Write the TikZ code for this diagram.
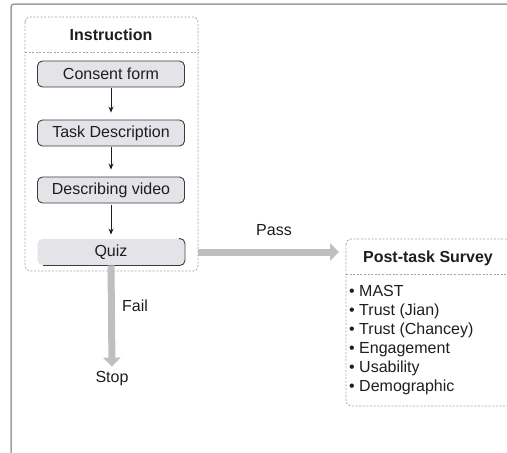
\documentclass[tikz,border=0pt]{standalone}
\usepackage{fontspec}
\setmainfont{Liberation Sans}
\usepackage{xcolor}
\usetikzlibrary{arrows.meta}
\definecolor{box_fill}{HTML}{E4E4E8}
\definecolor{box_line}{HTML}{3A3A3A}
\definecolor{txt_main}{HTML}{1E1E1E}
\colorlet{frame_line}{gray!75}
\colorlet{dash_line}{gray!70}
\colorlet{big_arrow_col}{gray!50}
\tikzset{
    step_box/.style={rectangle,rounded corners=5pt,fill=box_fill,draw=box_line,line width=0.9pt,
        minimum width=147pt,minimum height=26pt,inner sep=0pt,text=txt_main},
    dashed_frame/.style={dash_line,line width=0.8pt,dash pattern=on 2pt off 1.6pt},
    flow_arrow/.style={-{Stealth[length=6pt,width=5pt]},line width=0.9pt,txt_main},
    big_arrow/.style={-{Triangle[length=9pt,width=17pt]},line width=7pt,big_arrow_col},
    label_txt/.style={text=txt_main,inner sep=0pt},
}

\begin{document}
\begin{tikzpicture}[x=1pt,y=-1pt,font=\fontsize{16}{19}\selectfont]
  \useasboundingbox (0,0) rectangle (507,453);
  \clip (0,0) rectangle (507,453);
  % Outer frame (left and top only)
  \draw[frame_line,line width=1.5pt,rounded corners=3pt] (11,455) -- (11,4) -- (510,4);
  % Instruction block
  \draw[dashed_frame,rounded corners=5pt] (25,17) rectangle (198,271);
  \draw[dashed_frame] (25,52) -- (198,52);
  \node[label_txt,font=\fontsize{16}{19}\selectfont\bfseries] (instr) at (111,35) {Instruction};
  \node[step_box] (consent) at (111,74) {Consent form};
  \node[step_box] (task) at (111,133) {Task Description};
  \node[step_box] (video) at (111,190) {Describing video};
  \node[step_box,draw=none] (quiz) at (111,252) {Quiz};
  \draw[box_line,line width=0.9pt,rounded corners=5pt]
    ([xshift=-6pt]quiz.north east) -- (quiz.north east) -- (quiz.south east) -- ([xshift=6pt]quiz.south west);
  \draw[flow_arrow,shorten <=1pt,shorten >=7pt] (consent) -- (task);
  \draw[flow_arrow,shorten <=1pt,shorten >=7pt] (task) -- (video);
  \draw[flow_arrow,shorten <=2pt,shorten >=4pt] (video) -- (quiz);
  % Post-task survey block
  \draw[dashed_frame,rounded corners=5pt] (346,239) rectangle (530,406);
  \draw[dashed_frame] (346,274) -- (530,274);
  \node[label_txt,font=\fontsize{16}{19}\selectfont\bfseries] (survey) at (428,258) {Post-task Survey};
  \coordinate (survey_in) at (339,252);
  \node[label_txt,anchor=north west,align=left] (items) at (349,285)
    {• MAST\\• Trust (Jian)\\• Trust (Chancey)\\• Engagement\\• Usability\\• Demographic};
  % Pass / Fail arrows
  \node[label_txt] (stop) at (112,379) {Stop};
  \draw[big_arrow] (198,252) -- (survey_in);
  \node[label_txt] (pass) at (274,230) {Pass};
  \draw[big_arrow] (quiz.south) -- ([yshift=5pt]stop.north);
  \node[label_txt,anchor=west] (fail) at (122,306) {Fail};
\end{tikzpicture}
\end{document}
